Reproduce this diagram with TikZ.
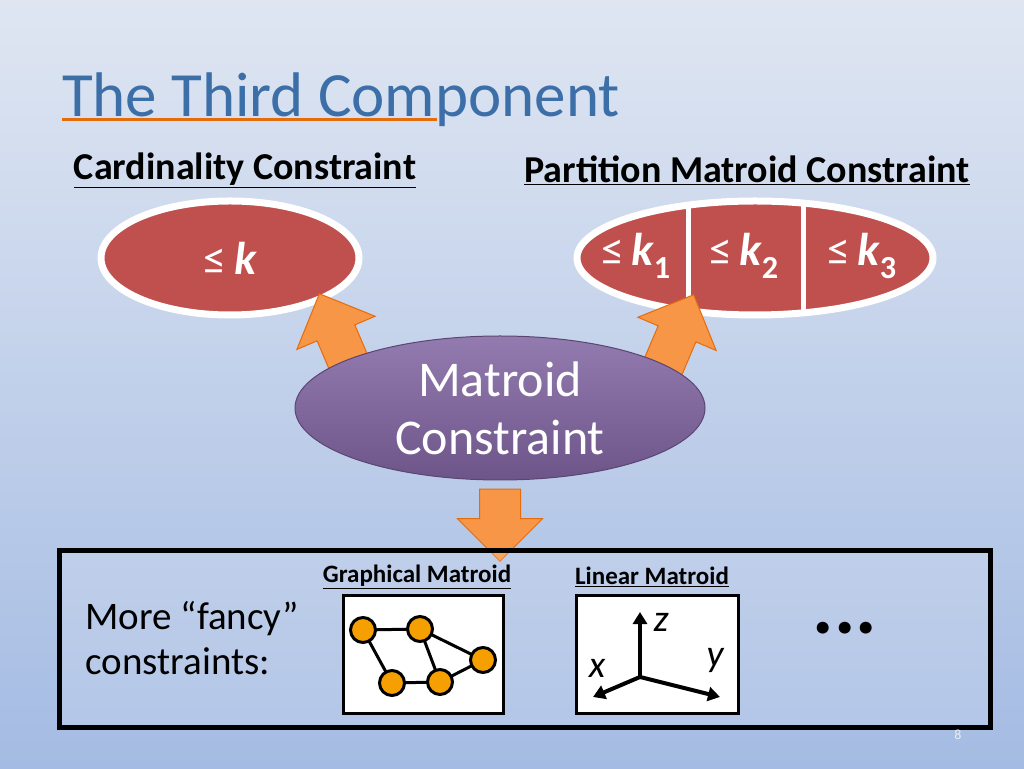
\documentclass[tikz,border=0pt]{standalone}
\usepackage{fontspec}
\setmainfont{Carlito}
\usetikzlibrary{shapes.geometric,shapes.arrows,arrows.meta,positioning}
\definecolor{titleblue}{HTML}{3C6EA8}
\definecolor{accentorange}{HTML}{E46C0A}
\definecolor{redfill}{HTML}{C0504D}
\definecolor{purplefill}{HTML}{8064A2}
\definecolor{arroworange}{HTML}{F79646}
\definecolor{nodeorange}{HTML}{F5A000}
\definecolor{bgtop}{HTML}{DFE6F2}
\definecolor{bgbottom}{HTML}{A4BBE3}
\newcommand{\fsz}[1]{\fontsize{#1}{#1}\selectfont}
\newcommand{\leqsym}{{\upshape\mdseries ≤}\,}
\tikzset{
  header/.style={font=\fsz{38}\bfseries},
  bound/.style={ellipse, draw=white, line width=7pt, fill=redfill, text=white, font=\fsz{46}\bfseries\itshape},
  fatarrow/.style={single arrow, draw=accentorange, line width=1pt, fill=arroworange, minimum width=84pt, single arrow head extend=22pt, single arrow head indent=0pt, inner xsep=0pt, inner ysep=20pt},
  picbox/.style={draw, line width=3pt, fill=white},
  vertex/.style={circle, draw, line width=3pt, fill=nodeorange, minimum size=25pt, inner sep=0pt},
  small/.style={font=\fsz{25}\bfseries}
}
\begin{document}
\begin{tikzpicture}[x=1pt,y=1pt]

        % Background
        \shade[top color=bgtop, bottom color=bgbottom] (0,0) rectangle (1024,768);
        \useasboundingbox (0,0) rectangle (1024,768);

        % Title
        \node (title) [anchor=west, inner sep=0pt, text=titleblue, font=\fsz{63}] at (62,668) {The Third Component};
        \draw[accentorange, line width=3pt] (62,648) -- (437,648);

        % Headers
        \node (cardinality) [header] at (245,598) {\underline{Cardinality Constraint}};
        \node (partition) [header] at (747,598) {\underline{Partition Matroid Constraint}};

        % Constraint ellipses
        \node (cardbound) [bound, minimum width=258pt, minimum height=114pt] at (230,510) {\leqsym k};
        \node (partbound) [bound, minimum width=356pt, minimum height=114pt] at (755,510) {};
        \begin{scope}
            \clip (755,510) ellipse (176pt and 55pt);
            \draw[white, line width=5pt] (688,440) -- (688,580) (803,440) -- (803,580);
        \end{scope}
        \node (kone) [text=white, font=\fsz{46}\bfseries\itshape] at (636,512) {\leqsym k\textsubscript{\upshape 1}};
        \node (ktwo) [text=white, font=\fsz{46}\bfseries\itshape] at (744,512) {\leqsym k\textsubscript{\upshape 2}};
        \node (kthree) [text=white, font=\fsz{46}\bfseries\itshape] at (862,512) {\leqsym k\textsubscript{\upshape 3}};

        % Arrows
        \node (upleft) [fatarrow, minimum height=80pt, rotate=113] at (339,428) {};
        \node (upright) [fatarrow, minimum height=80pt, rotate=67] at (674,427) {};
        \node (down) [fatarrow, minimum height=72pt, rotate=-90] at (500,253) {};

        % Matroid ellipse
        \node (matroid) [ellipse, draw=purplefill!70!black, line width=1pt, top color=purplefill!85!white, bottom color=purplefill!85!black, text=white, minimum width=410pt, minimum height=144pt, inner sep=0pt, align=center, font=\fsz{50}] at (500,360) {Matroid\\[8pt]Constraint};

        % Bottom box
        \node (fancybox) [draw, line width=5pt, fill=white, fill opacity=0.15, minimum width=931pt, minimum height=177pt, anchor=south west] at (57,38) {};
        \node (fancy) [anchor=north west, align=left, font=\fsz{39}] at (82,170) {More ``fancy''\\[6pt]constraints:};
        \node (graphical) [small] at (417,191) {\underline{Graphical Matroid}};
        \node (linear) [small] at (652,191) {\underline{Linear Matroid}};
        \node (graphbox) [picbox, minimum width=160pt, minimum height=118pt, anchor=south west] at (342,53) {};
        \node (linearbox) [picbox, minimum width=162pt, minimum height=118pt, anchor=south west] at (575,53) {};
        \node (dots) [font=\fsz{80}\bfseries] at (845,140) {...};
        \node (pagenum) [text=white!85!gray, font=\fsz{14}] at (958,33) {8};

        % Graph
        \draw[line width=3pt] (363,138) -- (420,139) -- (483,108) -- (440,86) -- (392,85) -- cycle (420,139) -- (440,86);
        \node (va) [vertex] at (363,138) {};
        \node (vb) [vertex] at (420,139) {};
        \node (vc) [vertex] at (483,108) {};
        \node (vd) [vertex] at (440,86) {};
        \node (ve) [vertex] at (392,85) {};

        % Axes
        \coordinate (origin) at (640,91);
        \coordinate (ztip) at (640,156);
        \coordinate (xtip) at (593,71);
        \coordinate (ytip) at (720,71);
        \draw[-{Triangle[length=12pt,width=14pt]}, line width=4pt] (origin) -- (ztip);
        \draw[-{Triangle[length=12pt,width=14pt]}, line width=4pt] (origin) -- (xtip);
        \draw[-{Triangle[length=12pt,width=14pt]}, line width=4pt] (origin) -- (ytip);
        \node (zlabel) [font=\fsz{38}\itshape] at (661,146) {z};
        \node (xlabel) [font=\fsz{38}\itshape] at (597,100) {x};
        \node (ylabel) [font=\fsz{38}\itshape] at (715,108) {y};

    \end{tikzpicture}
\end{document}
